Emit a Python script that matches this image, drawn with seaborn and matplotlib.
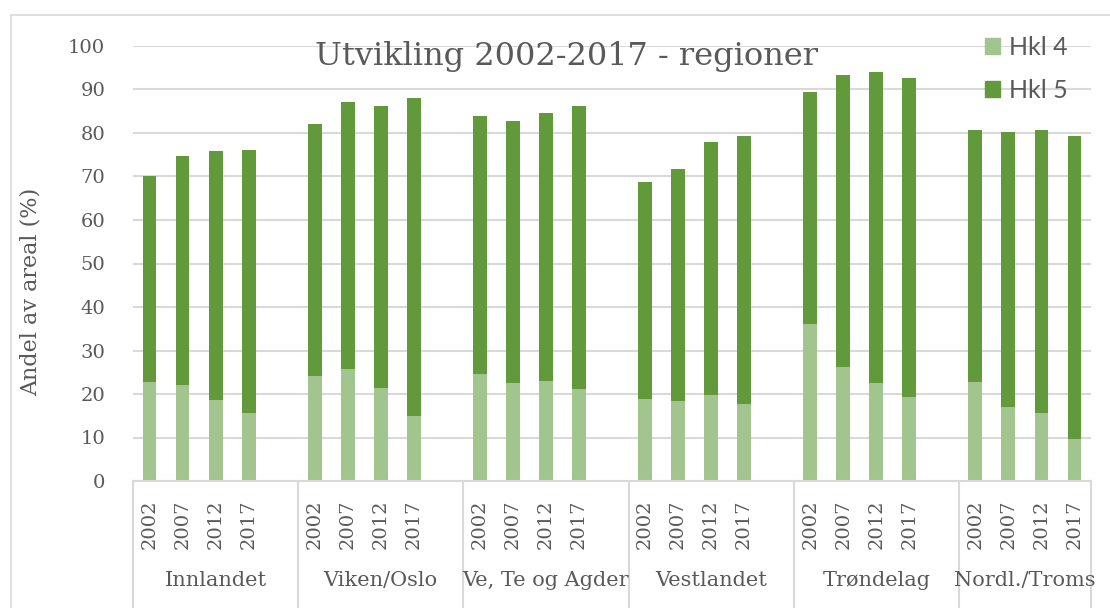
import numpy as np
import pandas as pd
import matplotlib
matplotlib.use("Agg")
import matplotlib.pyplot as plt
import matplotlib.transforms as mtransforms
from matplotlib.lines import Line2D
from matplotlib.patches import Patch
import seaborn as sns

sns.set_theme(style="white")
plt.rcParams['font.family'] = ['DejaVu Serif']

# Data (share of area, %)
regions = ["Innlandet", "Viken/Oslo", "Ve, Te og Agder", "Vestlandet", "Trøndelag", "Nordl./Troms"]
years = ["2002", "2007", "2012", "2017"]

hkl4 = {
    "Innlandet":       [22.8, 22.1, 18.6, 15.7],
    "Viken/Oslo":      [24.2, 25.7, 21.3, 14.9],
    "Ve, Te og Agder": [24.5, 22.5, 23.1, 21.1],
    "Vestlandet":      [18.9, 18.3, 19.8, 17.7],
    "Trøndelag":       [36.0, 26.3, 22.5, 19.2],
    "Nordl./Troms":    [22.8, 17.1, 15.7, 9.7],
}
hkl5 = {
    "Innlandet":       [47.4, 52.5, 57.2, 60.4],
    "Viken/Oslo":      [57.9, 61.5, 64.9, 73.1],
    "Ve, Te og Agder": [59.4, 60.2, 61.4, 65.1],
    "Vestlandet":      [49.8, 53.4, 58.1, 61.6],
    "Trøndelag":       [53.4, 67.0, 71.6, 73.4],
    "Nordl./Troms":    [58.0, 63.1, 65.1, 69.6],
}

LIGHT = "#A2C48E"
DARK = "#62993A"
TEXT = "#595959"
GRID = "#D9D9D9"

# one empty slot after each region, like the Excel source
rows = []
for g, reg in enumerate(regions):
    for i, yr in enumerate(years):
        rows.append({"region": reg, "year": yr, "pos": g * 5 + i,
                     "hkl4": hkl4[reg][i], "hkl5": hkl5[reg][i]})
df = pd.DataFrame(rows)
df["total"] = df["hkl4"] + df["hkl5"]

fig = plt.figure(figsize=(11.1, 6.08), dpi=100)
ax = fig.add_axes([133 / 1110, 127 / 608, (1091 - 133) / 1110, 435 / 608])

sns.barplot(data=df, x="pos", y="total", native_scale=True, width=0.42,
            color=DARK, saturation=1, errorbar=None, linewidth=0, ax=ax, zorder=3)
sns.barplot(data=df, x="pos", y="hkl4", native_scale=True, width=0.42,
            color=LIGHT, saturation=1, errorbar=None, linewidth=0, ax=ax, zorder=4)

ax.set_xlim(-0.5, 28.5)
ax.set_ylim(0, 100)
ax.set_yticks(np.arange(0, 101, 10))
ax.yaxis.grid(True, color=GRID, linewidth=1.5, zorder=0)
ax.set_axisbelow(True)
for s in ax.spines.values():
    s.set_visible(False)

ax.set_xticks(df["pos"])
ax.set_xticklabels(df["year"], rotation=90, fontsize=14, color=TEXT)
ax.tick_params(axis="x", length=0, pad=13)
ax.tick_params(axis="y", length=0, pad=20, labelsize=14, labelcolor=TEXT)
ax.set_xlabel("")
ax.set_ylabel("Andel av areal (%)", fontsize=16, color=TEXT, labelpad=14)
ax.yaxis.set_label_coords(-0.095, 0.434)

# category axis: baseline and separators running down to the bottom
trans = mtransforms.blended_transform_factory(ax.transData, ax.transAxes)
ax.add_line(Line2D([-0.5, 28.5], [0, 0], transform=trans, color=GRID,
                   linewidth=1.5, clip_on=False, zorder=5))
seps = [-0.5, 4.5, 9.5, 14.5, 19.5, 24.5, 28.5]
for xs in seps:
    ax.add_line(Line2D([xs, xs], [0, -0.3], transform=trans, color=GRID,
                       linewidth=1.5, clip_on=False))
for g, reg in enumerate(regions):
    ax.text((seps[g] + seps[g + 1]) / 2, -0.228, reg, transform=trans,
            ha="center", va="center", fontsize=15, color=TEXT)

ax.text(0.452, 0.977, "Utvikling 2002-2017 - regioner", transform=ax.transAxes,
        ha="center", va="center", fontsize=23, color=TEXT)

handles = [Patch(color=LIGHT, label="Hkl 4"), Patch(color=DARK, label="Hkl 5")]
leg = fig.legend(handles=handles, loc="upper left", bbox_to_anchor=(0.876, 0.962),
                 frameon=False, prop={"family": "Lato", "size": 18},
                 handlelength=0.6, handleheight=0.6, handletextpad=0.35,
                 labelspacing=0.82, borderpad=0)
for t in leg.get_texts():
    t.set_color(TEXT)

# outer chart frame
fig.add_artist(Line2D([11 / 1110, 11 / 1110], [0, 1 - 15 / 608], color=GRID, linewidth=1.2))
fig.add_artist(Line2D([11 / 1110, 1], [1 - 15 / 608, 1 - 15 / 608], color=GRID, linewidth=1.2))

fig.savefig("out.png", dpi=100)
